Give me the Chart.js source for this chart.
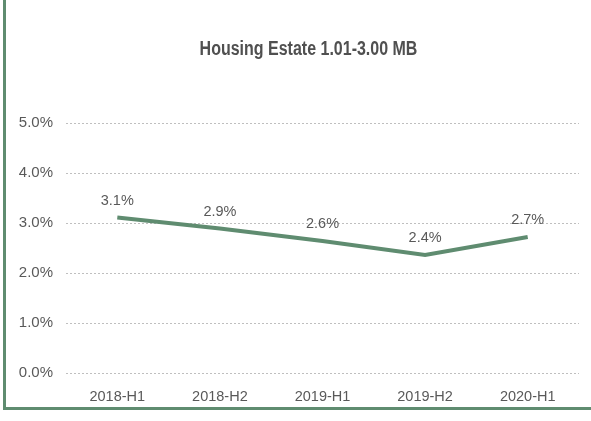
<!DOCTYPE html>
<html>
<head>
<meta charset="utf-8">
<script src="https://cdn.jsdelivr.net/npm/chart.js@4"></script>
<style>
  html, body { margin: 0; padding: 0; background: #fff; overflow: hidden; }
  #frame {
    position: absolute; left: 3px; top: 0;
    width: 588px; height: 407px;
    border-left: 3px solid #5f8c70;
    border-bottom: 3px solid #5f8c70;
  }
  #container { position: absolute; left: 0; top: 0; }
</style>
</head>
<body>
<div id="frame"><canvas id="container" width="585" height="407"></canvas></div>
<script>
const chartTitle = 'Housing Estate 1.01-3.00 MB';
const periods = ["2018-H1", "2018-H2", "2019-H1", "2019-H2", "2020-H1"];
const shareValues = [3.11, 2.89, 2.64, 2.36, 2.72];
const yTicks = [0, 1, 2, 3, 4, 5];

const textGrey = '#595959';
const lineGreen = '#5f8c70';

// labels above each point, placed from the line's own elements
const pointLabels = {
    id: 'pointLabels',
    afterDatasetsDraw(chart) {
        const ctx = chart.ctx;
        const meta = chart.getDatasetMeta(0);
        ctx.save();
        ctx.font = '14.5px "Liberation Sans", Arial, sans-serif';
        ctx.fillStyle = textGrey;
        ctx.textAlign = 'center';
        ctx.textBaseline = 'middle';
        meta.data.forEach(function(pt, i) {
            const v = chart.data.datasets[0].data[i];
            ctx.fillText(v.toFixed(1) + '%', pt.x, pt.y - 17);
        });
        ctx.restore();
    }
};

// narrow bold title (no condensed font installed, so squeeze it)
const narrowTitle = {
    id: 'narrowTitle',
    afterDraw(chart) {
        const ctx = chart.ctx;
        ctx.save();
        ctx.font = 'bold 20px "Liberation Sans", Arial, sans-serif';
        ctx.fillStyle = '#505050';
        ctx.textAlign = 'center';
        ctx.textBaseline = 'alphabetic';
        ctx.translate(302.5, 55);
        ctx.scale(0.8, 1);
        ctx.fillText(chartTitle, 0, 0);
        ctx.restore();
    }
};

const ctx = document.getElementById('container').getContext('2d');
var chart = new Chart(ctx, {
    type: 'line',
    data: {
        labels: periods,
        datasets: [{
            data: shareValues,
            borderColor: lineGreen,
            borderWidth: 4,
            pointRadius: 0,
            tension: 0,
            fill: false
        }]
    },
    options: {
        responsive: false,
        animation: false,
        layout: {
            padding: { left: 0, right: 12, top: 123, bottom: -13.4 }
        },
        plugins: {
            legend: { display: false },
            tooltip: { enabled: false },
            title: { display: false }
        },
        scales: {
            x: {
                offset: true,
                grid: { display: false, drawTicks: false },
                border: { display: false },
                ticks: {
                    color: textGrey,
                    padding: 15,
                    maxRotation: 0,
                    font: { family: '"Liberation Sans", Arial, sans-serif', size: 14.5 }
                }
            },
            y: {
                min: yTicks[0],
                max: yTicks[yTicks.length - 1],
                afterBuildTicks: function(scale) {
                    scale.ticks = yTicks.map(v => ({ value: v }));
                },
                afterFit: function(scale) { scale.width = 60; },
                grid: {
                    color: '#bfbfbf',
                    lineWidth: 1,
                    drawTicks: false
                },
                border: { display: false, dash: [2, 2] },
                ticks: {
                    color: textGrey,
                    padding: 13,
                    font: { family: '"Liberation Sans", Arial, sans-serif', size: 15 },
                    callback: function(v) { return Number(v).toFixed(1) + '%'; }
                }
            }
        }
    },
    plugins: [pointLabels, narrowTitle]
});
</script>
</body>
</html>
